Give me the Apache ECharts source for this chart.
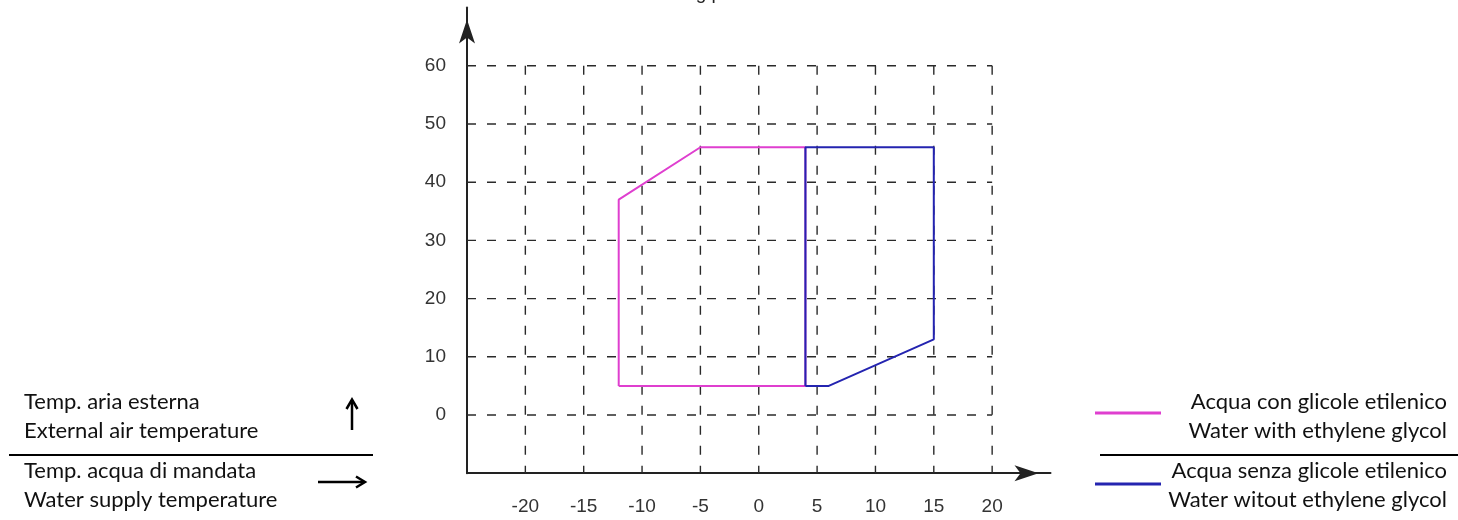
<!DOCTYPE html>
<html>
<head>
<meta charset="utf-8">
<script src="https://cdn.jsdelivr.net/npm/echarts@6/dist/echarts.min.js"></script>
<style>
  html, body { margin: 0; padding: 0; background: #fff; }
  #chart { width: 1458px; height: 520px; }
</style>
</head>
<body>
<div id="chart"></div>
<script>
// ---- data ----
const xTicks = [-20, -15, -10, -5, 0, 5, 10, 15, 20];
const yTicks = [0, 10, 20, 30, 40, 50, 60];
const xRange = [-25, 25];
const yRange = [-10, 70];

// operating envelope: water with ethylene glycol (x = water supply temp, y = external air temp)
const glycolX = [-12, -12, -5, 4, 4, -12];
const glycolY = [5, 37, 46, 46, 5, 5];
// operating envelope: water without ethylene glycol
const waterX = [4, 4, 15, 15, 6, 4];
const waterY = [5, 46, 46, 13, 5, 5];

const seriesNames = ['Acqua con glicole etilenico / Water with ethylene glycol',
                     'Acqua senza glicole etilenico / Water witout ethylene glycol'];
const leftLabels = ['Temp. aria esterna', 'External air temperature',
                    'Temp. acqua di mandata', 'Water supply temperature'];
const rightLabels = ['Acqua con glicole etilenico', 'Water with ethylene glycol',
                     'Acqua senza glicole etilenico', 'Water witout ethylene glycol'];
const titleText = 'Working parameters';

const PINK = '#DF3FCF';
const BLUE = '#2424B0';
const GRID = '#2a2a2a';
const LEGEND_FONT = 'Lato';

function pts(xs, ys) { return xs.map((x, i) => [x, ys[i]]); }

const gridSeries = [];
const gridTop = yTicks[yTicks.length - 1];
const gridRight = xTicks[xTicks.length - 1];
xTicks.forEach(x => {
  gridSeries.push({
    type: 'line', silent: true, symbol: 'none', z: 1, animation: false,
    lineStyle: { color: GRID, width: 1.4, type: [9, 11] },
    data: [[x, gridTop], [x, yRange[0]]]
  });
});
yTicks.forEach(y => {
  gridSeries.push({
    type: 'line', silent: true, symbol: 'none', z: 1, animation: false,
    lineStyle: { color: GRID, width: 1.4, type: [9, 11] },
    data: [[xRange[0], y], [gridRight, y]]
  });
});

const chart = echarts.init(document.getElementById('chart'), null, { renderer: 'canvas' });

function legendText(txt, x, y, align) {
  return { type: 'text', x: x, y: y, silent: true,
    style: { text: txt, font: '22px ' + LEGEND_FONT, fill: '#111', textAlign: align, textVerticalAlign: 'middle' } };
}
function seg(x1, y1, x2, y2, color, w) {
  return { type: 'line', silent: true, shape: { x1, y1, x2, y2 }, style: { stroke: color, lineWidth: w } };
}
function poly(points, color, w) {
  return { type: 'polyline', silent: true, shape: { points }, style: { stroke: color, lineWidth: w, fill: null } };
}

const textYs = [402, 431, 471, 500];

chart.setOption({
  animation: false,
  backgroundColor: '#fff',
  grid: { left: 467, right: 407.5, top: 7.6, bottom: 46.8, containLabel: false },
  xAxis: {
    type: 'value', min: xRange[0], max: xRange[1], interval: 5,
    axisLine: { show: true, onZero: false, symbol: ['none', 'arrow'], symbolSize: [12, 24], symbolOffset: [0, -12],
      lineStyle: { color: '#222', width: 2 } },
    axisTick: { show: false },
    splitLine: { show: false },
    axisLabel: { margin: 24, fontSize: 19, color: '#333', fontFamily: 'Liberation Sans',
      formatter: v => xTicks.indexOf(v) >= 0 ? String(v) : '' }
  },
  yAxis: {
    type: 'value', min: yRange[0], max: yRange[1], interval: 10,
    axisLine: { show: true, onZero: false, symbol: ['none', 'arrow'], symbolSize: [12, 24], symbolOffset: [0, -12],
      lineStyle: { color: '#222', width: 2 } },
    axisTick: { show: false },
    splitLine: { show: false },
    axisLabel: { margin: 21, fontSize: 19, color: '#333', fontFamily: 'Liberation Sans',
      formatter: v => yTicks.indexOf(v) >= 0 ? String(v) : '' }
  },
  series: gridSeries.concat([
    { name: seriesNames[0], type: 'line', symbol: 'none', z: 3, data: pts(glycolX, glycolY),
      lineStyle: { color: PINK, width: 2 } },
    { name: seriesNames[1], type: 'line', symbol: 'none', z: 4, data: pts(waterX, waterY),
      lineStyle: { color: BLUE, width: 2 } }
  ]),
  graphic: [
    { type: 'text', x: 637, y: -6, silent: true,
      style: { text: titleText, font: '19px "Liberation Sans"', fill: '#222', textAlign: 'left', textVerticalAlign: 'middle' } },
    // left explanation block
    legendText(leftLabels[0], 24, textYs[0], 'left'),
    legendText(leftLabels[1], 24, textYs[1], 'left'),
    legendText(leftLabels[2], 24, textYs[2], 'left'),
    legendText(leftLabels[3], 24, textYs[3], 'left'),
    seg(9, 455, 373, 455, '#000', 2),
    seg(352, 430, 352, 400, '#000', 2.5),
    poly([[346.5, 409], [352, 399.5], [357.5, 409]], '#000', 2.5),
    seg(318, 482, 364, 482, '#000', 2.5),
    poly([[356, 476.5], [365, 482], [356, 487.5]], '#000', 2.5),
    // right legend block
    legendText(rightLabels[0], 1447, textYs[0], 'right'),
    legendText(rightLabels[1], 1447, textYs[1], 'right'),
    legendText(rightLabels[2], 1447, textYs[2], 'right'),
    legendText(rightLabels[3], 1447, textYs[3], 'right'),
    seg(1100, 455, 1458, 455, '#000', 2),
    seg(1095, 413, 1161, 413, PINK, 3),
    seg(1095, 484, 1161, 484, BLUE, 3)
  ]
});
</script>
</body>
</html>
